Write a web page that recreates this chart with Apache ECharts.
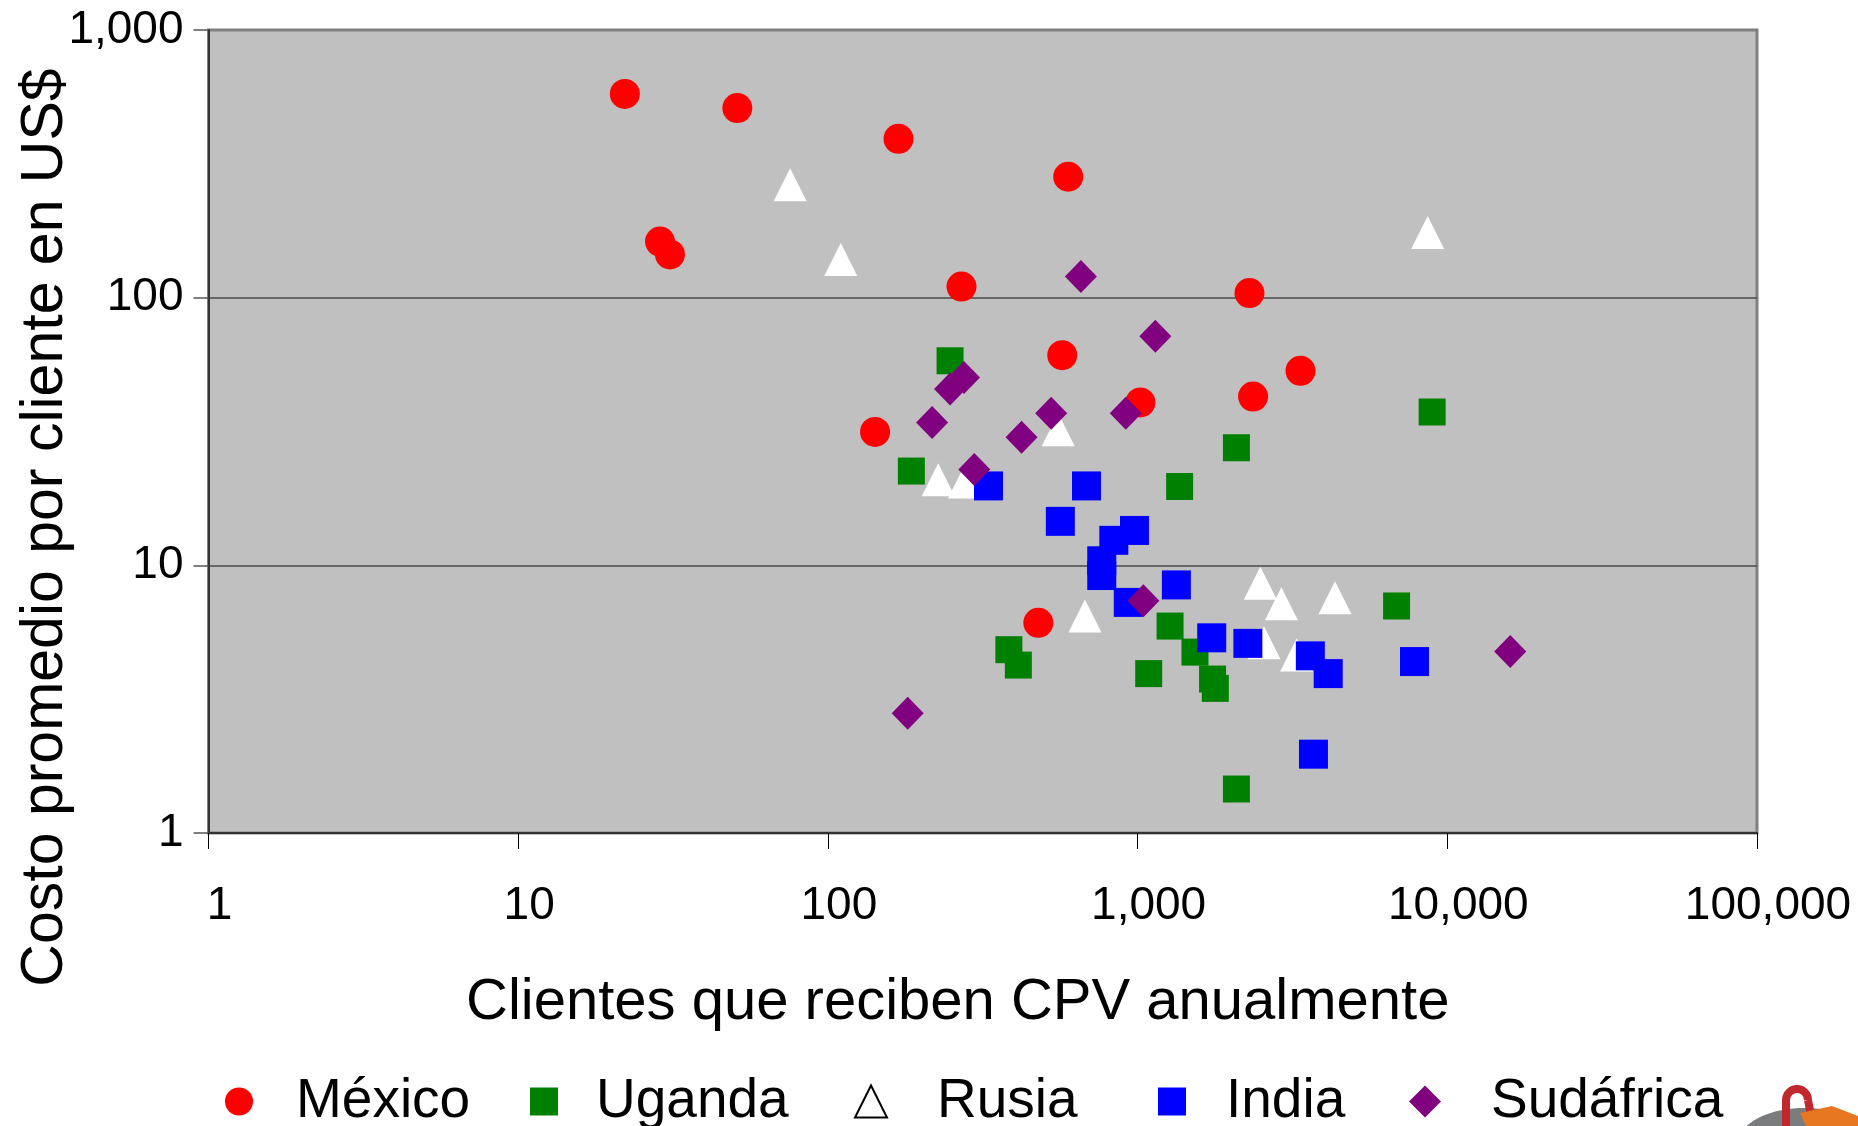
<!DOCTYPE html>
<html>
<head>
<meta charset="utf-8">
<script src="https://cdn.jsdelivr.net/npm/echarts@6/dist/echarts.min.js"></script>
<style>
  html, body { margin: 0; padding: 0; background: #ffffff; }
  #chart { width: 1858px; height: 1126px; }
</style>
</head>
<body>
<div id="chart"></div>
<script>
// ---- Data (clientes/año, costo promedio por cliente US$) ----
const seriesNames = ['México', 'Uganda', 'Rusia', 'India', 'Sudáfrica'];

const mexico = [
  [22.1, 577], [51, 511], [169, 392], [597, 283], [28.7, 162], [30.9, 145],
  [270, 110], [2297, 104], [571, 61], [3357, 53.3], [1021, 40.6], [2360, 42.7],
  [142, 31.5], [478, 6.1]
];
const uganda = [
  [248, 58.1], [186, 22.5], [2085, 27.5], [1367, 19.7], [8934, 37.4], [6858, 7.05],
  [1273, 5.93], [384, 4.84], [412, 4.24], [1086, 3.94], [1532, 4.74], [1746, 3.76],
  [1782, 3.47], [2085, 1.46]
];
const rusia = [
  [75.5, 264], [110, 139], [8642, 175], [554, 32.1], [227, 20.9], [276, 20.5],
  [676, 6.47], [2490, 8.57], [2913, 7.19], [4339, 7.57], [2559, 5.14], [3262, 4.62]
];
const india = [
  [330, 19.8], [684, 19.8], [563, 14.6], [977, 13.5], [838, 12.4], [766, 10.4],
  [766, 9.16], [933, 7.27], [1334, 8.45], [1735, 5.36], [2270, 5.11], [3612, 4.59],
  [4126, 3.94], [3697, 1.97], [7837, 4.37]
];
const sudafrica = [
  [656, 120], [1141, 71.8], [275, 50.3], [248, 45.6], [217, 34.2], [526, 37.0],
  [916, 37.0], [422, 30.1], [297, 22.8], [181, 2.80], [1044, 7.38], [15966, 4.77]
];

const xTickLabels = ['1', '10', '100', '1,000', '10,000', '100,000'];
const yTickLabels = ['1', '10', '100', '1,000'];

const xTitle = 'Clientes que reciben CPV anualmente';
const yTitle = 'Costo promedio por cliente en US$';

// ---- Chart ----
const FONT = '"Liberation Sans", Arial, Helvetica, sans-serif';
const chart = echarts.init(document.getElementById('chart'), null, { renderer: 'canvas' });

function legendFor(name, left, w, h, pad, itemStyle) {
  const item = { name: name };
  if (itemStyle) item.itemStyle = itemStyle;
  return {
    data: [item], left: left, top: 1074, padding: 0,
    itemWidth: w, itemHeight: h, selectedMode: false,
    textStyle: { fontFamily: FONT, fontSize: 55, color: '#000', lineHeight: 40, padding: [0, 0, 0, pad] }
  };
}

const option = {
  backgroundColor: '#ffffff',
  animation: false,
  grid: {
    left: 208.5, right: 101, top: 30, bottom: 293,
    show: true, backgroundColor: '#C0C0C0', borderColor: '#808080', borderWidth: 3,
    outerBoundsMode: 'none'
  },
  xAxis: {
    type: 'log', logBase: 10, min: 1, max: 100000,
    name: xTitle, nameLocation: 'middle', nameGap: 141, nameMoveOverlap: false,
    nameTextStyle: { fontFamily: FONT, fontSize: 58, color: '#000', lineHeight: 58, padding: [0, 50, 0, 0] },
    axisLine: { show: true, onZero: false, lineStyle: { color: '#333', width: 2 } },
    axisTick: { show: true, inside: false, length: 16, lineStyle: { color: '#000', width: 1 } },
    minorTick: { show: false },
    splitLine: { show: false },
    axisLabel: {
      fontFamily: FONT, fontSize: 46, color: '#000', margin: 50, lineHeight: 46,
      padding: [0, 0, 0, 22],
      formatter: v => xTickLabels[Math.round(Math.log10(v))]
    }
  },
  yAxis: {
    type: 'log', logBase: 10, min: 1, max: 1000,
    name: yTitle, nameLocation: 'middle', nameGap: 133, nameRotate: 90, nameMoveOverlap: false,
    nameTextStyle: { fontFamily: FONT, fontSize: 59, color: '#000', lineHeight: 59, padding: [0, 192, 0, 0] },
    axisLine: { show: true, onZero: false, lineStyle: { color: '#333', width: 2 } },
    axisTick: { show: true, inside: false, length: 15, lineStyle: { color: '#555', width: 1.5 } },
    minorTick: { show: false },
    splitLine: { show: true, lineStyle: { color: ['#333', '#4a4a4a', '#4a4a4a', '#808080'], width: 1.5 } },
    axisLabel: {
      fontFamily: FONT, fontSize: 46, color: '#000', margin: 25, lineHeight: 46,
      padding: [8, 0, 0, 0],
      formatter: v => yTickLabels[Math.round(Math.log10(v))]
    }
  },
  legend: [
    legendFor(seriesNames[0], 225, 28, 28, 38),
    legendFor(seriesNames[1], 530, 28, 28, 33),
    legendFor(seriesNames[2], 854, 32, 32, 45, { color: '#ffffff', borderColor: '#000000', borderWidth: 2 }),
    legendFor(seriesNames[3], 1158, 28, 28, 35),
    legendFor(seriesNames[4], 1409, 32, 32, 45)
  ],
  series: [
    { name: seriesNames[0], type: 'scatter', data: mexico, symbol: 'circle', symbolSize: 30,
      itemStyle: { color: '#FF0000', opacity: 1 } },
    { name: seriesNames[1], type: 'scatter', data: uganda, symbol: 'rect', symbolSize: 27,
      itemStyle: { color: '#008000', opacity: 1 } },
    { name: seriesNames[2], type: 'scatter', data: rusia, symbol: 'triangle', symbolSize: 33,
      itemStyle: { color: '#FFFFFF', opacity: 1 } },
    { name: seriesNames[3], type: 'scatter', data: india, symbol: 'rect', symbolSize: 29,
      itemStyle: { color: '#0000FF', opacity: 1 } },
    { name: seriesNames[4], type: 'scatter', data: sudafrica, symbol: 'diamond', symbolSize: [32, 33],
      itemStyle: { color: '#800080', opacity: 1 } }
  ],
  graphic: [
    { type: 'ellipse', shape: { cx: 1805, cy: 1142, rx: 66, ry: 34 }, style: { fill: '#7b7c7e' }, z: 100 },
    { type: 'arc', shape: { cx: 1797, cy: 1100, r: 11, startAngle: Math.PI, endAngle: 2 * Math.PI, clockwise: true },
      style: { fill: 'none', stroke: '#c1272d', lineWidth: 8 }, z: 101 },
    { type: 'line', shape: { x1: 1786, y1: 1100, x2: 1786, y2: 1126 },
      style: { stroke: '#c1272d', lineWidth: 8 }, z: 101 },
    { type: 'line', shape: { x1: 1808, y1: 1100, x2: 1811, y2: 1116 },
      style: { stroke: '#c1272d', lineWidth: 8 }, z: 101 },
    { type: 'polygon', shape: { points: [[1800, 1113], [1832, 1106], [1858, 1116], [1858, 1126], [1806, 1126]] },
      style: { fill: '#e87722' }, z: 102 }
  ]
};
chart.setOption(option);
</script>
</body>
</html>
